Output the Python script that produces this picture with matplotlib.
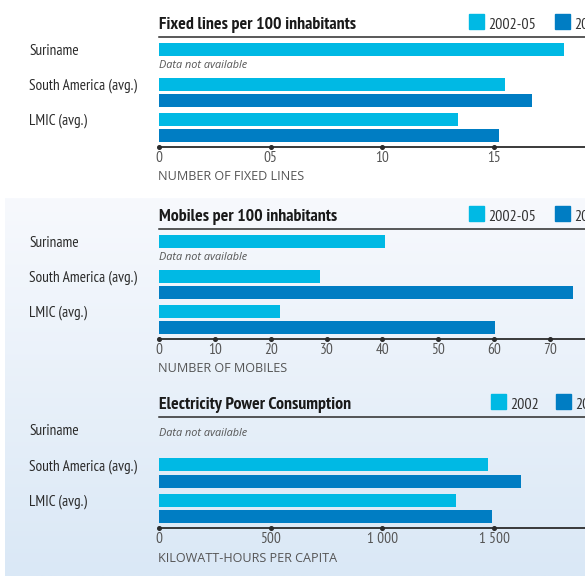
import numpy as np
import matplotlib
matplotlib.use("Agg")
import matplotlib.pyplot as plt
from matplotlib.patches import Rectangle
from matplotlib.transforms import blended_transform_factory

# ---------------- data ----------------
categories = ["Suriname", "South America (avg.)", "LMIC (avg.)"]

fixed_title = "Fixed lines per 100 inhabitants"
fixed_early = [18.1, 15.5, 13.4]
fixed_late = [np.nan, 16.7, 15.2]
fixed_ticks = [0, 5, 10, 15, 20]
fixed_ticklabels = ["0", "05", "10", "15", "20"]
fixed_xlabel = "NUMBER OF FIXED LINES"
fixed_legend = ["2002-05", "2006-09"]

mobile_title = "Mobiles per 100 inhabitants"
mobile_early = [40.4, 28.8, 21.7]
mobile_late = [np.nan, 74.1, 60.2]
mobile_ticks = [0, 10, 20, 30, 40, 50, 60, 70, 80]
mobile_ticklabels = ["0", "10", "20", "30", "40", "50", "60", "70", "80"]
mobile_xlabel = "NUMBER OF MOBILES"
mobile_legend = ["2002-05", "2006-09"]

elec_title = "Electricity Power Consumption"
elec_early = [np.nan, 1472, 1329]
elec_late = [np.nan, 1620, 1490]
elec_ticks = [0, 500, 1000, 1500, 2000]
elec_ticklabels = ["0", "500", "1 000", "1 500", "2 000"]
elec_xlabel = "KILOWATT-HOURS PER CAPITA"
elec_legend = ["2002", "2007"]

na_text = "Data not available"

# ---------------- style ----------------
COND = ["PT Sans Narrow", "DejaVu Sans"]
REG = ["Open Sans", "DejaVu Sans"]
ITAL = ["Open Sans", "DejaVu Sans"]

C1 = "#00b9e4"
C2 = "#007dc3"
DARK = "#2b2b2b"
GREY = "#555555"

W, H = 585, 578
fig = plt.figure(figsize=(W / 100, H / 100), dpi=100)
fig.patch.set_facecolor("white")


def fx(px):
    return px / W


def fy(py):
    return 1 - py / H


# gradient background for lower panels
bg = fig.add_axes([fx(5), fy(576), 1 - fx(5), (576 - 198) / H], zorder=0)
grad = np.linspace(0, 1, 256)[:, None]
c_top = np.array(matplotlib.colors.to_rgb("#f7f9fd"))
c_bot = np.array(matplotlib.colors.to_rgb("#dae8f6"))
img = c_top[None, None, :] * (1 - grad[:, :, None]) + c_bot[None, None, :] * grad[:, :, None]
bg.imshow(img, aspect="auto", extent=[0, 1, 0, 1])
bg.set_axis_off()

LEFT = 159
AX_W = 447
Y0, Y1 = -0.357, 2.786
OFF = 0.457
BH = 0.37


def panel(top, bottom, title, early, late, ticks, ticklabels, xlabel, legend,
          na_offset, leg_x):
    ax = fig.add_axes([fx(LEFT), fy(bottom), AX_W / W, (bottom - top) / H], zorder=2)
    ax.set_facecolor("none")
    ax.set_xlim(ticks[0], ticks[-1])
    ax.set_ylim(Y1, Y0)
    pos = np.arange(len(categories))
    ax.barh(pos, early, height=BH, color=C1, zorder=3)
    ax.barh(pos + OFF, late, height=BH, color=C2, zorder=3)
    tr = blended_transform_factory(fig.transFigure, ax.transData)
    for i, cat in enumerate(categories):
        ax.text(fx(29), i, cat, transform=tr, fontsize=11, family=COND,
                color=DARK, va="center_baseline", ha="left")
        if np.isnan(late[i]):
            yy = i + OFF if not np.isnan(early[i]) else i + na_offset
            ax.text(0, yy, na_text, fontsize=7.8, style="italic", family=ITAL,
                    color=GREY, va="center", ha="left")
    for s in ["left", "right"]:
        ax.spines[s].set_visible(False)
    ax.spines["top"].set_color(DARK)
    ax.spines["top"].set_linewidth(1.1)
    ax.spines["bottom"].set_color(DARK)
    ax.spines["bottom"].set_linewidth(1.3)
    ax.set_yticks([])
    ax.set_xticks(ticks)
    ax.set_xticklabels(ticklabels, family=COND, fontsize=11, color=GREY)
    ax.tick_params(axis="x", length=0, pad=3)
    ax.plot(ticks, [Y1] * len(ticks), "o", ms=2.6, color=DARK, clip_on=False, zorder=5)
    # title
    fig.text(fx(LEFT), fy(top - 8), title, family=COND, fontweight="bold",
             fontsize=12.8, color="#1a1a1a", va="baseline", ha="left")
    # xlabel
    fig.text(fx(LEFT - 1), fy(bottom + 30), xlabel, family=REG, fontsize=9.1,
             color=GREY, va="center", ha="left")
    # legend
    for j, (lab, col) in enumerate(zip(legend, [C1, C2])):
        x0 = leg_x[j]
        fig.patches.append(Rectangle((fx(x0), fy(top - 8)), 15 / W, 15 / H,
                                     transform=fig.transFigure, color=col, zorder=3))
        fig.text(fx(x0 + 19), fy(top - 8), lab, family=COND, fontsize=11.5,
                 color="#333333", va="baseline", ha="left")
    return ax


panel(37, 147, fixed_title, fixed_early, fixed_late, fixed_ticks, fixed_ticklabels,
      fixed_xlabel, fixed_legend, 0.0, [469, 555])
panel(229, 339, mobile_title, mobile_early, mobile_late, mobile_ticks, mobile_ticklabels,
      mobile_xlabel, mobile_legend, 0.0, [469, 555])
panel(417, 528, elec_title, elec_early, elec_late, elec_ticks, elec_ticklabels,
      elec_xlabel, elec_legend, 0.1, [491, 556])

fig.savefig("out.png", dpi=100)
